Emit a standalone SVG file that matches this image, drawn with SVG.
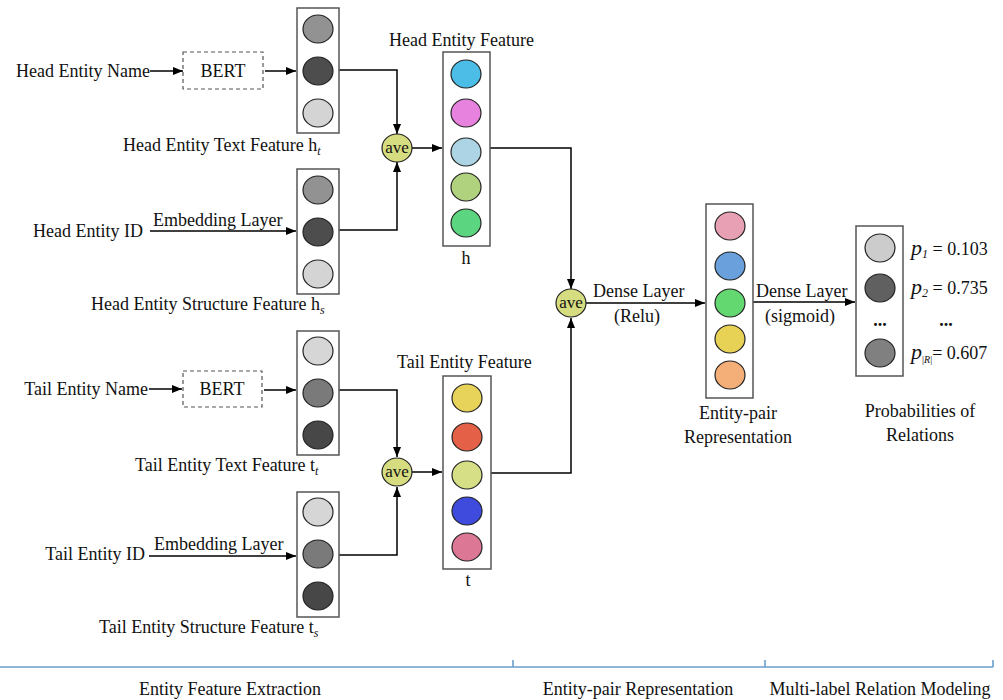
<svg xmlns="http://www.w3.org/2000/svg" width="1003" height="700" viewBox="0 0 1003 700">
<defs>
<marker id="arr" viewBox="0 0 10 8" refX="10" refY="4" markerWidth="10" markerHeight="8" markerUnits="userSpaceOnUse" orient="auto">
<path d="M0,0 L10,4 L0,8 z" fill="#000"/>
</marker>
</defs>
<style>
text{font-family:"Liberation Serif","Times New Roman",serif;font-size:18px;fill:#111}
.box{fill:#fff;stroke:#555;stroke-width:1.5}
.dash{fill:#fff;stroke:#555;stroke-width:1.2;stroke-dasharray:4 3}
.c{stroke:#222;stroke-width:1.2}
.ave{fill:#d6dc80;stroke:#222;stroke-width:1.2}
.avet{font-size:17px;text-anchor:middle}
.conn{fill:none;stroke:#000;stroke-width:1.5}
.mid{text-anchor:middle}
.end{text-anchor:end}
.sub{font-size:12px;font-style:italic}
.axis{fill:none;stroke:#6a9fd0;stroke-width:1.6}
</style>
<rect width="1003" height="700" fill="#fff"/>

<g id="connectors">
<path class="conn" d="M150,71 H183" marker-end="url(#arr)"/>
<path class="conn" d="M265,71 H296" marker-end="url(#arr)"/>
<path class="conn" d="M339,70 H397 V134" marker-end="url(#arr)"/>
<path class="conn" d="M339,230 H397 V162" marker-end="url(#arr)"/>
<path class="conn" d="M150,231 H296" marker-end="url(#arr)"/>
<path class="conn" d="M412,148 H442" marker-end="url(#arr)"/>
<path class="conn" d="M490,148 H571 V289" marker-end="url(#arr)"/>
<path class="conn" d="M149,389 H182" marker-end="url(#arr)"/>
<path class="conn" d="M264,390 H296" marker-end="url(#arr)"/>
<path class="conn" d="M339,390 H397 V457" marker-end="url(#arr)"/>
<path class="conn" d="M339,555 H397 V487" marker-end="url(#arr)"/>
<path class="conn" d="M149,556 H296" marker-end="url(#arr)"/>
<path class="conn" d="M412,472 H442" marker-end="url(#arr)"/>
<path class="conn" d="M491,473 H571 V318" marker-end="url(#arr)"/>
<path class="conn" d="M586,303 H705" marker-end="url(#arr)"/>
<path class="conn" d="M753,302 H855" marker-end="url(#arr)"/>
</g>

<g id="head-name"><text class="end" x="150" y="77">Head Entity Name</text></g>
<g id="head-bert"><rect class="dash" x="183" y="52" width="80" height="37"/><text class="mid" x="223" y="77">BERT</text></g>
<g id="head-text-feature">
<rect class="box" x="297" y="8" width="42" height="125"/>
<ellipse class="c" cx="318" cy="29" rx="15" ry="14" fill="#929292"/>
<ellipse class="c" cx="318" cy="71" rx="15" ry="14" fill="#4d4d4d"/>
<ellipse class="c" cx="318" cy="113" rx="15" ry="14" fill="#d4d4d4"/>
<text x="123" y="151">Head Entity Text Feature h<tspan class="sub" dy="4">t</tspan></text>
</g>
<g id="head-id"><text class="end" x="143" y="237">Head Entity ID</text><text x="153" y="226">Embedding Layer</text></g>
<g id="head-structure-feature">
<rect class="box" x="297" y="169" width="42" height="125"/>
<ellipse class="c" cx="318" cy="190" rx="15" ry="14" fill="#929292"/>
<ellipse class="c" cx="318" cy="232" rx="15" ry="14" fill="#4d4d4d"/>
<ellipse class="c" cx="318" cy="274" rx="15" ry="14" fill="#d4d4d4"/>
<text x="91" y="310">Head Entity Structure Feature h<tspan class="sub" dy="4">s</tspan></text>
</g>
<g id="head-ave"><ellipse class="ave" cx="397" cy="148" rx="15" ry="14"/><text class="avet" x="397" y="153">ave</text></g>
<g id="head-feature">
<text x="389" y="46">Head Entity Feature</text>
<rect class="box" x="443" y="52" width="47" height="194"/>
<ellipse class="c" cx="466" cy="74" rx="15" ry="14" fill="#4cbde6"/>
<ellipse class="c" cx="466" cy="113" rx="15" ry="14" fill="#e882df"/>
<ellipse class="c" cx="466" cy="152" rx="15" ry="14" fill="#acd4e4"/>
<ellipse class="c" cx="466" cy="187" rx="15" ry="14" fill="#b0d27e"/>
<ellipse class="c" cx="466" cy="223" rx="15" ry="14" fill="#5bd57f"/>
<text class="mid" x="466" y="264">h</text>
</g>

<g id="tail-name"><text class="end" x="148" y="395">Tail Entity Name</text></g>
<g id="tail-bert"><rect class="dash" x="183" y="371" width="79" height="36"/><text class="mid" x="222" y="395">BERT</text></g>
<g id="tail-text-feature">
<rect class="box" x="297" y="331" width="42" height="124"/>
<ellipse class="c" cx="318" cy="351" rx="15" ry="14" fill="#d6d6d6"/>
<ellipse class="c" cx="318" cy="393" rx="15" ry="14" fill="#7a7a7a"/>
<ellipse class="c" cx="318" cy="435" rx="15" ry="14" fill="#474747"/>
<text x="135" y="471">Tail Entity Text Feature  t<tspan class="sub" dy="4">t</tspan></text>
</g>
<g id="tail-id"><text class="end" x="145" y="560">Tail Entity ID</text><text x="154" y="550">Embedding Layer</text></g>
<g id="tail-structure-feature">
<rect class="box" x="297" y="492" width="42" height="125"/>
<ellipse class="c" cx="318" cy="512" rx="15" ry="14" fill="#d6d6d6"/>
<ellipse class="c" cx="318" cy="554" rx="15" ry="14" fill="#7a7a7a"/>
<ellipse class="c" cx="318" cy="596" rx="15" ry="14" fill="#474747"/>
<text x="99" y="633">Tail Entity Structure Feature  t<tspan class="sub" dy="4">s</tspan></text>
</g>
<g id="tail-ave"><ellipse class="ave" cx="397" cy="472" rx="15" ry="14"/><text class="avet" x="397" y="477">ave</text></g>
<g id="tail-feature">
<text x="397" y="368">Tail Entity Feature</text>
<rect class="box" x="443" y="376" width="48" height="193"/>
<ellipse class="c" cx="467" cy="398" rx="15" ry="14" fill="#e8d35a"/>
<ellipse class="c" cx="467" cy="437" rx="15" ry="14" fill="#e46046"/>
<ellipse class="c" cx="467" cy="475" rx="15" ry="14" fill="#d6de86"/>
<ellipse class="c" cx="467" cy="511" rx="15" ry="14" fill="#3e4bdc"/>
<ellipse class="c" cx="467" cy="547" rx="15" ry="14" fill="#dc7896"/>
<text class="mid" x="468" y="586">t</text>
</g>

<g id="pair-ave"><ellipse class="ave" cx="571" cy="303" rx="15" ry="14"/><text class="avet" x="571" y="308">ave</text></g>
<g id="dense-relu"><text x="593" y="297">Dense Layer</text><text class="mid" x="637" y="322">(Relu)</text></g>
<g id="entity-pair">
<rect class="box" x="706" y="204" width="47" height="194"/>
<ellipse class="c" cx="730" cy="226" rx="15" ry="14" fill="#e8a0b4"/>
<ellipse class="c" cx="730" cy="266" rx="15" ry="14" fill="#6aa0dc"/>
<ellipse class="c" cx="730" cy="303" rx="15" ry="14" fill="#64d870"/>
<ellipse class="c" cx="730" cy="339" rx="15" ry="14" fill="#e8d256"/>
<ellipse class="c" cx="730" cy="375" rx="15" ry="14" fill="#f4ae78"/>
<text class="mid" x="738" y="419">Entity-pair</text>
<text class="mid" x="738" y="443">Representation</text>
</g>
<g id="dense-sigmoid"><text x="756" y="297">Dense Layer</text><text class="mid" x="800" y="322">(sigmoid)</text></g>
<g id="probabilities">
<rect class="box" x="856" y="226" width="47" height="150"/>
<ellipse class="c" cx="880" cy="248" rx="15" ry="14" fill="#cccccc"/>
<ellipse class="c" cx="880" cy="288" rx="15" ry="14" fill="#606060"/>
<text class="mid" x="880" y="326" font-weight="bold">...</text>
<ellipse class="c" cx="880" cy="353" rx="15" ry="14" fill="#808080"/>
<text x="911" y="255"><tspan font-style="italic" font-size="22">p</tspan><tspan class="sub" dy="3">1</tspan><tspan dy="-3"> = 0.103</tspan></text>
<text x="911" y="294"><tspan font-style="italic" font-size="22">p</tspan><tspan class="sub" dy="3">2</tspan><tspan dy="-3"> = 0.735</tspan></text>
<text class="mid" x="946" y="326" font-weight="bold">...</text>
<text x="911" y="359"><tspan font-style="italic" font-size="22">p</tspan><tspan font-size="10" dy="4">|<tspan font-style="italic">R</tspan>|</tspan><tspan dy="-4">= 0.607</tspan></text>
<text class="mid" x="920" y="417">Probabilities of</text>
<text class="mid" x="920" y="441">Relations</text>
</g>

<g id="stages">
<path class="axis" d="M0,667 H993 M513,660 V667 M765,660 V667 M993,660 V667"/>
<text class="mid" x="230" y="695">Entity Feature Extraction</text>
<text class="mid" x="638" y="695">Entity-pair Representation</text>
<text class="mid" x="880" y="695">Multi-label Relation Modeling</text>
</g>
</svg>
